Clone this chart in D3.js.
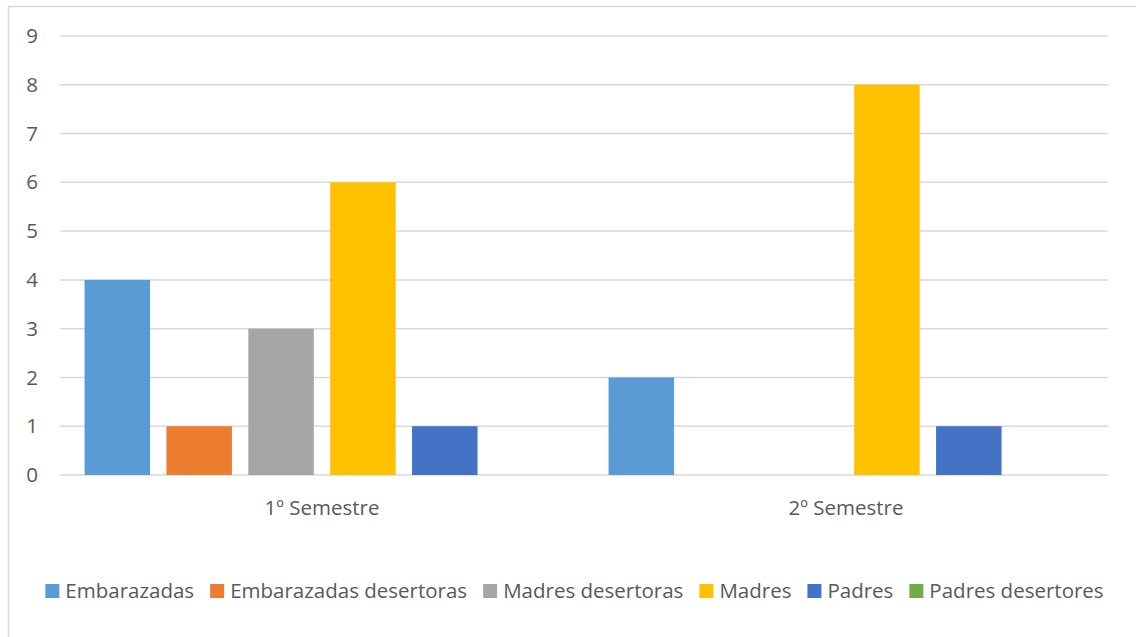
<!DOCTYPE html>
<html>
<head>
<meta charset="utf-8">
<script src="https://cdn.jsdelivr.net/npm/d3@7"></script>
<style>
  body { margin: 0; background: #fff; }
  text { font-family: "Open Sans", sans-serif; fill: #595959; }
</style>
</head>
<body>
<div id="chart"></div>
<script>
// data
const categories = ["1º Semestre", "2º Semestre"];
const seriesNames = ["Embarazadas", "Embarazadas desertoras", "Madres desertoras", "Madres", "Padres", "Padres desertores"];
const seriesColors = ["#5b9bd5", "#ed7d31", "#a5a5a5", "#ffc000", "#4472c4", "#70ad47"];
const embarazadas = [4, 2];
const embarazadasDesertoras = [1, 0];
const madresDesertoras = [3, 0];
const madres = [6, 8];
const padres = [1, 1];
const padresDesertores = [0, 0];
const yTicks = [0, 1, 2, 3, 4, 5, 6, 7, 8, 9];

const seriesValues = [embarazadas, embarazadasDesertoras, madresDesertoras, madres, padres, padresDesertores];

const W = 1136, H = 637;
const margin = { top: 36, right: 28, bottom: 162, left: 60 };
const width = W - margin.left - margin.right;
const height = H - margin.top - margin.bottom;
const fontSize = "20.5px";

const svg = d3.select("#chart").append("svg")
  .attr("width", W)
  .attr("height", H);

// outer border
svg.append("rect")
  .attr("x", 8.5).attr("y", 6.5)
  .attr("width", W).attr("height", H)
  .attr("fill", "none")
  .attr("stroke", "#d9d9d9")
  .attr("stroke-width", 1.5);

const g = svg.append("g")
  .attr("transform", `translate(${margin.left},${margin.top})`);

const x0 = d3.scaleBand()
  .domain(categories)
  .range([0, width]);

const x1 = d3.scaleBand()
  .domain(seriesNames)
  .range([0, x0.bandwidth()])
  .paddingInner(0.2)
  .paddingOuter(0.3);

const y = d3.scaleLinear()
  .domain([0, 9])
  .range([height, 0]);

// gridlines
g.append("g")
  .selectAll("line")
  .data(yTicks)
  .join("line")
  .attr("x1", 0).attr("x2", width)
  .attr("y1", d => y(d)).attr("y2", d => y(d))
  .attr("stroke", "#d9d9d9")
  .attr("stroke-width", 1.5);

// y axis labels
const yAxis = g.append("g")
  .call(d3.axisLeft(y).tickValues(yTicks).tickSize(0).tickPadding(22));
yAxis.select(".domain").remove();
yAxis.selectAll("text")
  .style("font-size", fontSize)
  .style("font-family", "'Open Sans', sans-serif")
  .attr("fill", "#595959");

// bars
const groups = g.selectAll(".cat")
  .data(categories)
  .join("g")
  .attr("transform", d => `translate(${x0(d)},0)`);

groups.selectAll("rect")
  .data((c, ci) => seriesNames.map((s, si) => ({ s, v: seriesValues[si][ci], color: seriesColors[si] })))
  .join("rect")
  .attr("x", d => x1(d.s))
  .attr("width", x1.bandwidth())
  .attr("y", d => y(d.v))
  .attr("height", d => height - y(d.v))
  .attr("fill", d => d.color);

// x axis labels
const xAxis = g.append("g")
  .attr("transform", `translate(0,${height})`)
  .call(d3.axisBottom(x0).tickSize(0).tickPadding(25));
xAxis.select(".domain").remove();
xAxis.selectAll("text")
  .style("font-size", fontSize)
  .style("font-family", "'Open Sans', sans-serif")
  .attr("fill", "#595959");

// legend
const legend = svg.append("g");
const items = legend.selectAll("g")
  .data(seriesNames)
  .join("g");
items.append("rect")
  .attr("width", 14).attr("height", 14)
  .attr("y", -14)
  .attr("fill", (d, i) => seriesColors[i]);
items.append("text")
  .attr("x", 20)
  .attr("y", 0)
  .style("font-size", fontSize)
  .text(d => d);

let offset = 0;
items.each(function () {
  const w = this.querySelector("text").getComputedTextLength();
  d3.select(this).attr("transform", `translate(${offset},0)`);
  offset += 20 + w + 16;
});
offset -= 16;
legend.attr("transform", `translate(${574.5 - offset / 2},598)`);
</script>
</body>
</html>
